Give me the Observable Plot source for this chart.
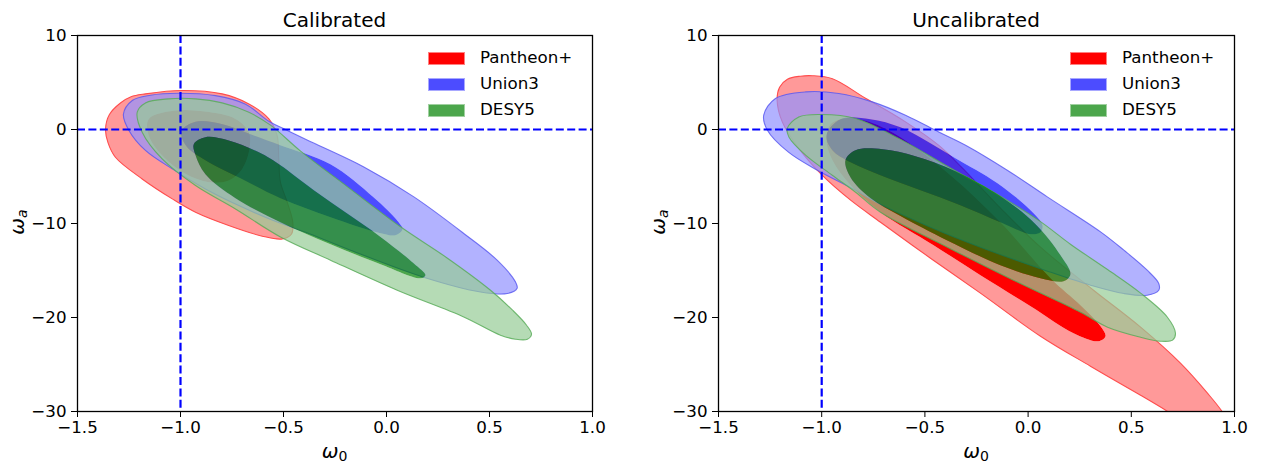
<!DOCTYPE html>
<html><head><meta charset="utf-8">
<script src="https://cdn.jsdelivr.net/npm/d3@7"></script>
<script src="https://cdn.jsdelivr.net/npm/@observablehq/plot@0.6"></script>
<style>
body{margin:0;background:#fff;font-family:"DejaVu Sans",sans-serif;}
#wrap{position:relative;width:1268px;height:466px;overflow:hidden;background:#fff;}
.panel{position:absolute;top:0;}
.ttl{position:absolute;font-size:20px;line-height:20px;white-space:nowrap;transform:translateX(-50%);color:#000;}
.xl{position:absolute;font-size:20px;line-height:20px;white-space:nowrap;transform:translateX(-50%);color:#000;}
.yl{position:absolute;font-size:20px;line-height:20px;white-space:nowrap;transform:translate(-50%,-50%) rotate(-90deg);color:#000;}
.xl sub,.yl sub{font-size:14px;vertical-align:-3px;font-style:normal;}
.lg{position:absolute;font-size:16.7px;line-height:17px;white-space:nowrap;color:#000;}
.patch{position:absolute;width:37px;height:13px;box-sizing:border-box;}
</style></head><body><div id="wrap"></div>
<script>
// ---------- data ----------
const panelTitles = ["Calibrated", "Uncalibrated"];
const seriesNames = ["Pantheon+", "Union3", "DESY5"];
const xTicks = [-1.5, -1.0, -0.5, 0.0, 0.5, 1.0];
const yTicks = [-30, -20, -10, 0, 10];
const refLineX = [-1];
const refLineY = [0];

// Calibrated panel contours: [w0, wa]
const calPantheonOuter = [[-1.364,0.03],[-1.352,-1.40],[-1.316,-2.95],[-1.186,-5.26],[-1.040,-7.38],[-0.927,-8.80],[-0.766,-10.21],[-0.603,-11.35],[-0.506,-11.64],[-0.461,-11.11],[-0.455,-9.86],[-0.482,-7.73],[-0.515,-5.61],[-0.523,-3.13],[-0.531,-0.64],[-0.571,1.13],[-0.668,2.72],[-0.798,3.79],[-0.992,4.15],[-1.170,3.79],[-1.240,3.49],[-1.290,2.85],[-1.345,1.60]];
const calPantheonInner = [[-1.154,1.13],[-1.024,2.02],[-0.879,1.91],[-0.733,1.13],[-0.668,-0.29],[-0.665,-2.06],[-0.700,-4.19],[-0.766,-5.43],[-0.863,-5.61],[-0.976,-4.72],[-1.089,-2.77],[-1.154,-0.64]];
const calUnionOuter = [[-1.277,1.63],[-1.234,3.09],[-1.146,3.65],[-1.010,3.86],[-0.830,3.60],[-0.684,2.69],[-0.571,0.88],[-0.474,-0.18],[-0.383,-1.14],[-0.110,-3.98],[0.133,-7.17],[0.375,-11.06],[0.537,-13.90],[0.626,-16.21],[0.634,-16.88],[0.586,-17.45],[0.456,-17.28],[0.180,-15.71],[-0.175,-12.84],[-0.393,-10.93],[-0.553,-9.65],[-0.717,-8.09],[-0.879,-6.32],[-1.040,-4.19],[-1.170,-2.23],[-1.251,-0.07]];
const calUnionInner = [[-0.995,-0.18],[-0.927,0.83],[-0.796,0.56],[-0.660,-0.50],[-0.515,-1.67],[-0.272,-3.69],[-0.063,-7.20],[0.058,-9.83],[0.078,-10.61],[0.044,-11.24],[-0.029,-11.03],[-0.272,-9.33],[-0.515,-7.31],[-0.709,-5.18],[-0.879,-3.27],[-0.971,-1.78]];
const calDesOuter = [[-1.210,1.84],[-1.170,2.83],[-1.057,3.26],[-0.927,3.26],[-0.798,2.83],[-0.668,1.84],[-0.563,0.46],[-0.417,-2.30],[-0.189,-6.10],[0.068,-10.35],[0.296,-13.69],[0.505,-17.10],[0.612,-19.22],[0.680,-20.82],[0.704,-21.78],[0.684,-22.31],[0.626,-22.31],[0.553,-21.88],[0.375,-19.94],[0.052,-17.10],[-0.272,-13.90],[-0.515,-11.43],[-0.733,-8.45],[-0.927,-5.96],[-1.089,-3.13],[-1.186,-0.29]];
const calDesInner = [[-0.935,-1.53],[-0.879,-0.82],[-0.766,-1.17],[-0.603,-2.60],[-0.515,-3.80],[-0.353,-6.46],[-0.191,-8.94],[-0.029,-11.43],[0.133,-14.26],[0.189,-15.50],[0.165,-15.82],[-0.029,-14.33],[-0.272,-12.20],[-0.515,-9.86],[-0.733,-7.31],[-0.879,-4.76],[-0.927,-2.73]];

// Uncalibrated panel contours: [w0, wa]
const uncPantheonOuter = [[-1.216,3.12],[-1.204,4.50],[-1.166,5.35],[-1.103,5.67],[-1.045,5.72],[-0.948,5.40],[-0.788,3.33],[-0.594,0.81],[-0.434,-1.67],[-0.318,-4.12],[-0.134,-8.37],[0.060,-12.52],[0.317,-17.10],[0.545,-21.03],[0.738,-24.86],[0.869,-28.05],[0.942,-30.07],[0.990,-31.99],[1.010,-33.80],[0.961,-34.33],[0.860,-32.84],[0.738,-30.92],[0.674,-29.97],[0.545,-28.27],[0.302,-25.18],[0.060,-21.99],[-0.231,-17.41],[-0.473,-13.69],[-0.715,-9.86],[-0.860,-7.52],[-0.998,-4.86],[-1.111,-2.02],[-1.191,0.81]];
const uncPantheonInner = [[-0.977,-1.14],[-0.957,0.56],[-0.885,1.20],[-0.764,0.78],[-0.618,-0.82],[-0.376,-4.86],[-0.134,-9.86],[0.109,-15.82],[0.254,-18.69],[0.351,-20.93],[0.375,-21.99],[0.341,-22.52],[0.220,-21.67],[0.012,-18.80],[-0.231,-15.50],[-0.458,-12.31],[-0.715,-8.80],[-0.860,-5.93],[-0.948,-3.27]];
const uncUnionOuter = [[-1.281,1.52],[-1.224,3.30],[-1.078,4.00],[-0.917,3.83],[-0.755,2.94],[-0.594,1.52],[-0.433,-0.26],[-0.303,-1.67],[-0.101,-4.33],[0.093,-7.17],[0.351,-10.89],[0.464,-12.84],[0.577,-14.97],[0.633,-16.38],[0.633,-17.10],[0.577,-17.63],[0.464,-17.45],[0.302,-16.56],[0.094,-15.07],[-0.231,-12.52],[-0.473,-10.39],[-0.715,-7.95],[-0.836,-6.46],[-1.030,-4.22],[-1.161,-2.41],[-1.263,-0.07]];
const uncUnionInner = [[-0.977,-0.61],[-0.909,1.10],[-0.764,1.10],[-0.618,0.24],[-0.473,-1.46],[-0.352,-3.05],[-0.148,-5.71],[0.012,-8.59],[0.070,-10.18],[0.060,-10.93],[0.012,-11.14],[-0.134,-9.86],[-0.328,-8.05],[-0.521,-6.46],[-0.715,-4.86],[-0.860,-3.48],[-0.948,-2.20]];
const uncDesOuter = [[-1.167,0.11],[-1.111,1.34],[-0.998,1.60],[-0.836,1.17],[-0.618,-1.05],[-0.376,-4.10],[-0.134,-7.10],[0.060,-9.80],[0.205,-12.20],[0.385,-14.90],[0.545,-17.41],[0.675,-19.97],[0.714,-21.67],[0.700,-22.41],[0.641,-22.52],[0.545,-22.10],[0.385,-21.03],[0.254,-19.44],[-0.071,-16.03],[-0.391,-12.52],[-0.715,-8.80],[-0.836,-6.67],[-0.949,-4.86],[-1.078,-2.73],[-1.159,-0.79]];
const uncDesInner = [[-0.885,-3.27],[-0.836,-2.20],[-0.705,-2.10],[-0.546,-2.84],[-0.352,-4.44],[-0.134,-7.10],[0.036,-10.07],[0.157,-13.37],[0.205,-15.39],[0.172,-16.14],[0.060,-15.82],[-0.134,-14.44],[-0.391,-11.80],[-0.618,-9.20],[-0.764,-7.30],[-0.860,-5.10]];

// ---------- styles ----------
const styles = {
  "Pantheon+": {ring:"#ff9999", ringOp:1, core:"#ff0000", coreOp:1, edge:"#ff4d4d", edgeOp:1, patch:"rgba(255,0,0,1)", patchEdge:"#ff8080"},
  "Union3":    {ring:"#9191ff", ringOp:0.7, core:"#0000ff", coreOp:0.7, edge:"#5555f0", edgeOp:0.8, patch:"rgba(0,0,255,0.7)", patchEdge:"#a8a8ff"},
  "DESY5":     {ring:"#95cc95", ringOp:0.7, core:"#008000", coreOp:0.7, edge:"#55aa55", edgeOp:0.8, patch:"rgba(0,128,0,0.7)", patchEdge:"#a0d0a0"}
};

const panels = [
  {title: panelTitles[0], sets: [[seriesNames[0], calPantheonOuter, calPantheonInner],[seriesNames[1], calUnionOuter, calUnionInner],[seriesNames[2], calDesOuter, calDesInner]], left:0, ml:77, mr:42},
  {title: panelTitles[1], sets: [[seriesNames[0], uncPantheonOuter, uncPantheonInner],[seriesNames[1], uncUnionOuter, uncUnionInner],[seriesNames[2], uncDesOuter, uncDesInner]], left:634, ml:84, mr:34}
];

// Cut the 1-sigma hole out of each 2-sigma band (disjoint contour bands)
function mergeRings(svg){
  const outers = [...svg.querySelectorAll('g[aria-description="ringouter"]')];
  const holes = [...svg.querySelectorAll('g[aria-description="ringhole"]')];
  outers.forEach((g, i) => {
    const h = holes[i];
    if (!h) return;
    const po = g.querySelector("path"), ph = h.querySelector("path");
    if (!po || !ph) return;
    po.setAttribute("d", po.getAttribute("d") + ph.getAttribute("d"));
    po.setAttribute("fill-rule", "evenodd");
    h.remove();
  });
}

const wrap = document.getElementById("wrap");
const W = 634, H = 466, MT = 35, MB = 55;
const px = d => d[0], py = d => d[1];

for (const p of panels) {
  const marks = [];
  for (const [name, outer, inner] of p.sets) {
    const s = styles[name];
    marks.push(Plot.line(outer, {x: px, y: py, curve: "catmull-rom-closed", fill: s.ring, fillOpacity: s.ringOp, stroke: "none", clip: true, ariaDescription: "ringouter"}));
    marks.push(Plot.line(inner, {x: px, y: py, curve: "catmull-rom-closed", fill: "none", stroke: "none", clip: true, ariaDescription: "ringhole"}));
    marks.push(Plot.line(outer, {x: px, y: py, curve: "catmull-rom-closed", fill: "none", stroke: s.edge, strokeOpacity: s.edgeOp, strokeWidth: 1.1, clip: true}));
    marks.push(Plot.line(inner, {x: px, y: py, curve: "catmull-rom-closed", fill: s.core, fillOpacity: s.coreOp, stroke: "none", clip: true}));
  }
  marks.push(Plot.ruleX(refLineX, {stroke: "#0000ff", strokeWidth: 2.2, strokeDasharray: "8,3.4"}));
  marks.push(Plot.ruleY(refLineY, {stroke: "#0000ff", strokeWidth: 2.2, strokeDasharray: "8,3.4"}));
  marks.push(Plot.frame({stroke: "#000", strokeWidth: 1.3}));

  const svg = Plot.plot({
    width: W, height: H, marginLeft: p.ml, marginRight: p.mr, marginTop: MT, marginBottom: MB,
    x: {domain: [-1.5, 1], ticks: xTicks, tickFormat: d3.format(".1f"), label: null, tickSize: 6, tickPadding: 4},
    y: {domain: [-30, 10], ticks: yTicks, tickFormat: d3.format("d"), label: null, tickSize: 6, tickPadding: 5},
    style: {fontFamily: "DejaVu Sans", fontSize: "16.7px", background: "transparent", color: "#000", overflow: "visible"},
    marks
  });
  mergeRings(svg);
  const holder = document.createElement("div");
  holder.className = "panel";
  holder.style.left = p.left + "px";
  holder.appendChild(svg);
  wrap.appendChild(holder);

  const fx0 = p.left + p.ml, fx1 = p.left + W - p.mr, cx = (fx0 + fx1) / 2;
  const t = document.createElement("div");
  t.className = "ttl"; t.textContent = p.title;
  t.style.left = cx + "px"; t.style.top = "10px";
  wrap.appendChild(t);
  const xl = document.createElement("div");
  xl.className = "xl"; xl.innerHTML = "<i>ω</i><sub>0</sub>";
  xl.style.left = cx + "px"; xl.style.top = "441px";
  wrap.appendChild(xl);
  const yl = document.createElement("div");
  yl.className = "yl"; yl.innerHTML = "<i>ω</i><sub><i>a</i></sub>";
  yl.style.left = (fx0 - 58) + "px"; yl.style.top = "222px";
  wrap.appendChild(yl);
  const rows = [58.3, 84.2, 110];
  seriesNames.forEach((n, i) => {
    const s = styles[n];
    const pa = document.createElement("div");
    pa.className = "patch";
    pa.style.left = (fx1 - 164) + "px";
    pa.style.top = (rows[i] - 6.5) + "px";
    pa.style.background = s.patch;
    pa.style.border = "1px solid " + s.patchEdge;
    wrap.appendChild(pa);
    const lt = document.createElement("div");
    lt.className = "lg"; lt.textContent = n;
    lt.style.left = (fx1 - 112) + "px";
    lt.style.top = (rows[i] - 9.5) + "px";
    wrap.appendChild(lt);
  });
}
</script></body></html>
